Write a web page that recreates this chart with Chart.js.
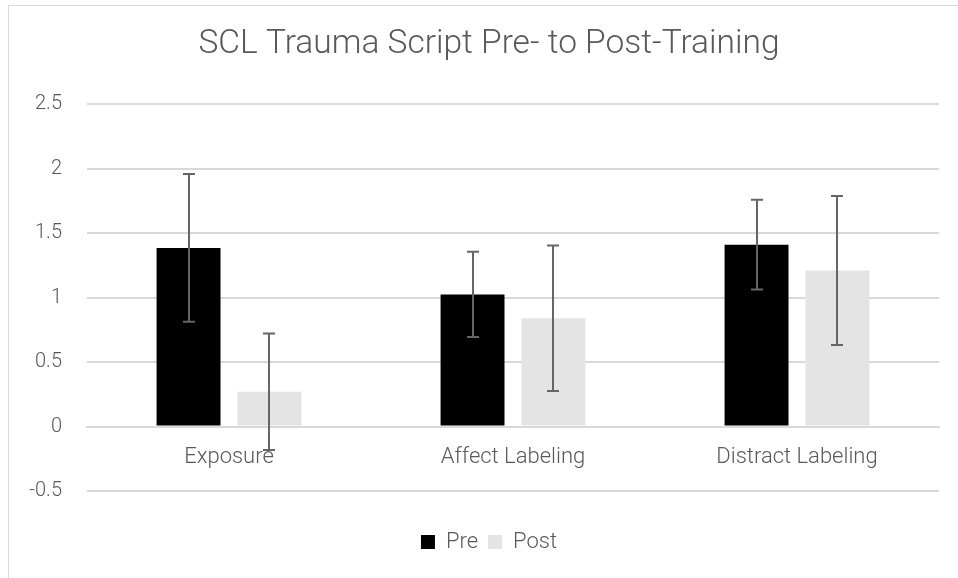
<!DOCTYPE html>
<html>
<head>
<meta charset="utf-8">
<script src="https://cdn.jsdelivr.net/npm/chart.js@4.4.0/dist/chart.umd.min.js"></script>
<style>
  html, body { margin: 0; padding: 0; background: #fff; }
  #wrap { position: relative; width: 958px; height: 578px; overflow: hidden; }
  #frame { position: absolute; left: 8px; top: 5px; width: 980px; height: 600px; border: 1px solid #d9d9d9; box-sizing: border-box; pointer-events: none; }
</style>
</head>
<body>
<div id="wrap">
  <canvas id="mycanvas" width="988" height="578"></canvas>
  <div id="frame"></div>
</div>
<script>
var categories = ["Exposure", "Affect Labeling", "Distract Labeling"];
var preValues = [1.385, 1.025, 1.41];
var postValues = [0.27, 0.84, 1.21];
var preErrors = [0.573, 0.33, 0.348];
var postErrors = [0.452, 0.565, 0.578];
var yTicks = [-0.5, 0, 0.5, 1, 1.5, 2, 2.5];

var fontFamily = "Roboto, 'Open Sans', sans-serif";
var textColor = "#595959";

// error bars drawn on top of the bars
var errorBars = {
	id: 'errorBars',
	afterDatasetsDraw: function(chart) {
		var ctx = chart.ctx;
		var yScale = chart.scales.y;
		var errs = [preErrors, postErrors];
		ctx.save();
		ctx.strokeStyle = "#666666";
		ctx.lineWidth = 2;
		for (var d = 0; d < chart.data.datasets.length; d++) {
			var meta = chart.getDatasetMeta(d);
			var vals = chart.data.datasets[d].data;
			for (var i = 0; i < meta.data.length; i++) {
				var x = Math.round(meta.data[i].x);
				var top = yScale.getPixelForValue(vals[i] + errs[d][i]);
				var bot = yScale.getPixelForValue(vals[i] - errs[d][i]);
				ctx.beginPath();
				ctx.moveTo(x, top); ctx.lineTo(x, bot);
				ctx.moveTo(x - 6, top); ctx.lineTo(x + 6, top);
				ctx.moveTo(x - 6, bot); ctx.lineTo(x + 6, bot);
				ctx.stroke();
			}
		}
		ctx.restore();
	}
};

var chartdata = {
	labels: categories,
	datasets: [
		{
			label: 'Pre',
			backgroundColor: "#000000",
			data: preValues,
			categoryPercentage: 0.57,
			barPercentage: 0.79
		},
		{
			label: 'Post',
			backgroundColor: "#e4e4e4",
			data: postValues,
			categoryPercentage: 0.57,
			barPercentage: 0.79
		}
	]
};

var ctx = document.getElementById("mycanvas");

var barGraph = new Chart(ctx, {
	type: 'bar',
	data: chartdata,
	plugins: [errorBars],
	options: {
		responsive: false,
		animation: false,
		layout: { padding: { left: 9, right: 19, top: 5, bottom: 15 } },
		plugins: {
			title: {
				display: true,
				text: "SCL Trauma Script Pre- to Post-Training",
				color: textColor,
				font: { family: fontFamily, size: 33.5, weight: '300' },
				padding: { top: 20, bottom: 39 }
			},
			legend: {
				position: 'bottom',
				// empty legend title only used as spacer above the items
				title: { display: true, text: '', font: { size: 10 }, padding: { top: 18, bottom: 0 } },
				labels: {
					color: textColor,
					font: { family: fontFamily, size: 22, weight: '300' },
					boxWidth: 14,
					boxHeight: 14,
					padding: 10
				}
			},
			tooltip: { enabled: false }
		},
		scales: {
			x: {
				position: { y: 0 },
				grid: { display: false },
				border: { color: "#d9d9d9", width: 2 },
				ticks: {
					color: textColor,
					font: { family: fontFamily, size: 22, weight: '300' },
					padding: 10
				}
			},
			y: {
				min: -0.5,
				max: 2.5,
				afterBuildTicks: function(axis) {
					axis.ticks = yTicks.map(function(v) { return { value: v }; });
				},
				afterFit: function(axis) { axis.width = 78; },
				grid: { color: "#d9d9d9", lineWidth: 2, drawTicks: false },
				border: { display: false },
				ticks: {
					color: textColor,
					font: { family: fontFamily, size: 20, weight: '300' },
					padding: 25,
					callback: function(value) { return String(value); }
				}
			},
			// empty right-hand spacer so title and legend centre like the original
			yRight: {
				position: 'right',
				grid: { display: false },
				border: { display: false },
				ticks: { display: false },
				afterFit: function(axis) { axis.width = 30; }
			}
		}
	}
});
</script>
</body>
</html>
